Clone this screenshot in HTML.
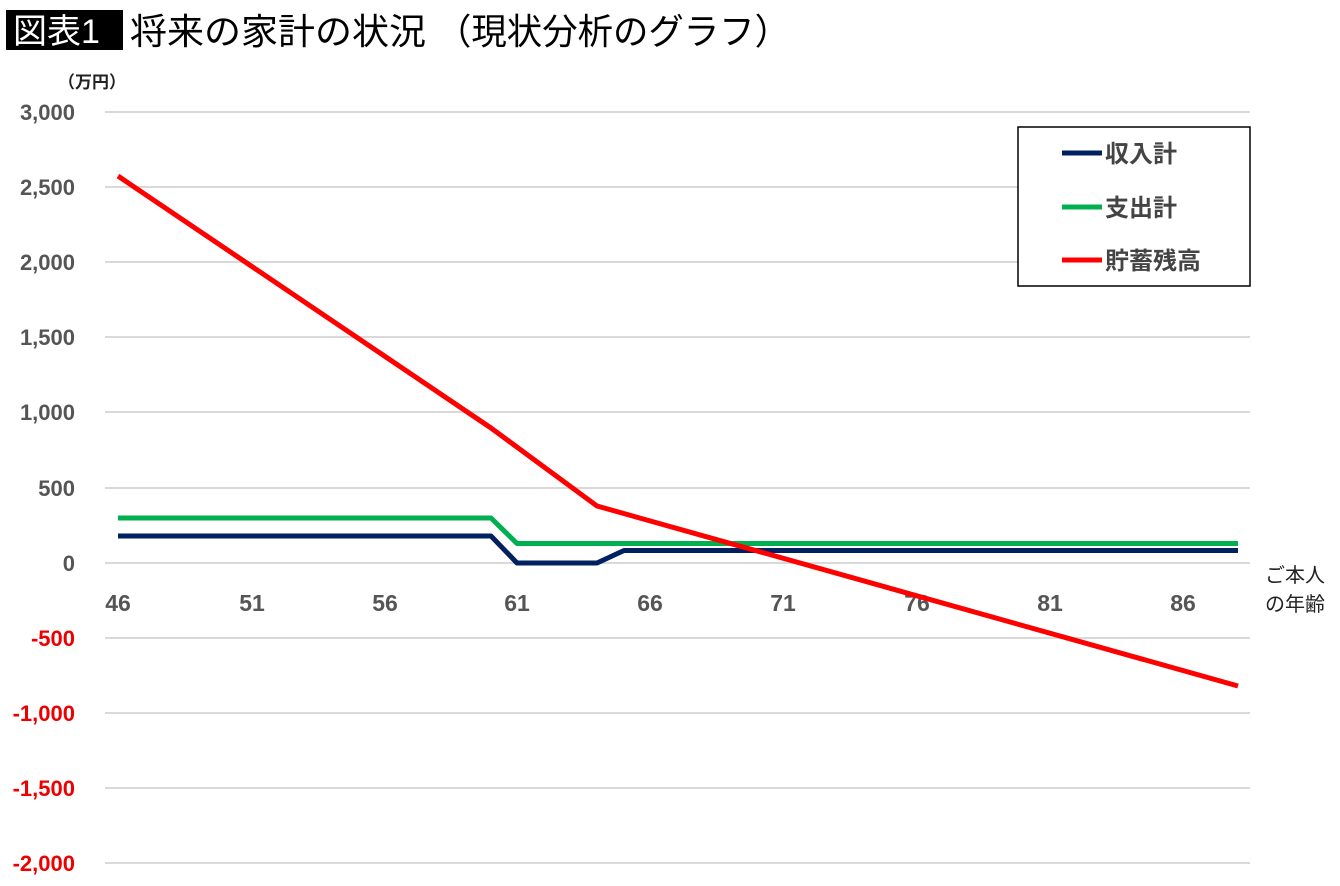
<!DOCTYPE html>
<html><head><meta charset="utf-8"><style>
body{margin:0;background:#fff;width:1340px;height:886px;overflow:hidden;font-family:"Liberation Sans","Noto Sans CJK JP",sans-serif;}
</style></head><body>
<svg width="1340" height="886" xmlns="http://www.w3.org/2000/svg" style="position:absolute;left:0;top:0">
<rect x="6" y="10" width="117" height="40" fill="#000"/>
<text x="13" y="43" font-size="34" fill="#fff" font-family="Liberation Sans,Noto Sans CJK JP,sans-serif">図表1</text>
<text x="130" y="44" font-size="36" fill="#000" font-family="Liberation Sans,Noto Sans CJK JP,sans-serif" textLength="296" lengthAdjust="spacingAndGlyphs">将来の家計の状況</text>
<text x="436" y="44" font-size="36" fill="#000" font-family="Liberation Sans,Noto Sans CJK JP,sans-serif" textLength="354" lengthAdjust="spacingAndGlyphs">（現状分析のグラフ）</text>
<text x="58" y="88" font-size="17" fill="#222" font-weight="bold" font-family="Liberation Sans,Noto Sans CJK JP,sans-serif">（万円）</text>
<g stroke="#d9d9d9" stroke-width="2">
<line x1="105" x2="1250" y1="112" y2="112"/><line x1="105" x2="1250" y1="187" y2="187"/>
<line x1="105" x2="1250" y1="262" y2="262"/><line x1="105" x2="1250" y1="337" y2="337"/>
<line x1="105" x2="1250" y1="412" y2="412"/><line x1="105" x2="1250" y1="488" y2="488"/>
<line x1="105" x2="1250" y1="563" y2="563"/><line x1="105" x2="1250" y1="638" y2="638"/>
<line x1="105" x2="1250" y1="713" y2="713"/><line x1="105" x2="1250" y1="788" y2="788"/>
<line x1="105" x2="1250" y1="863" y2="863"/>
</g>
<g font-size="22" font-weight="bold" text-anchor="end" font-family="Liberation Sans,sans-serif">
<text x="75" y="120" fill="#555">3,000</text><text x="75" y="195" fill="#555">2,500</text>
<text x="75" y="270" fill="#555">2,000</text><text x="75" y="345" fill="#555">1,500</text>
<text x="75" y="420" fill="#555">1,000</text><text x="75" y="496" fill="#555">500</text>
<text x="75" y="571" fill="#555">0</text><text x="75" y="646" fill="#e00">-500</text>
<text x="75" y="721" fill="#e00">-1,000</text><text x="75" y="796" fill="#e00">-1,500</text>
<text x="75" y="871" fill="#e00">-2,000</text>
</g>
<g font-size="23" font-weight="bold" text-anchor="middle" fill="#555" font-family="Liberation Sans,sans-serif">
<text x="118" y="611">46</text><text x="252" y="611">51</text><text x="385" y="611">56</text>
<text x="517" y="611">61</text><text x="650" y="611">66</text><text x="783" y="611">71</text>
<text x="917" y="611">76</text><text x="1050" y="611">81</text><text x="1183" y="611">86</text>
</g>
<text x="1265" y="582" font-size="20" fill="#222" font-family="Liberation Sans,Noto Sans CJK JP,sans-serif">ご本人</text>
<text x="1265" y="611" font-size="20" fill="#222" font-family="Liberation Sans,Noto Sans CJK JP,sans-serif">の年齢</text>
<g fill="none" stroke-width="5" stroke-linejoin="round">
<polyline stroke="#00b050" points="118,518 491,518 517,543.5 1238,543.5"/>
<polyline stroke="#002060" points="118,536 491,536 517,563 597,563 624,550.5 1238,550.5"/>
<polyline stroke="#ff0000" points="118,176 491,428 597,506 1238,686"/>
</g>
<rect x="1018" y="127" width="232" height="159" fill="#fff" stroke="#000" stroke-width="1.5"/>
<g stroke-width="5"><line x1="1062" x2="1102" y1="153" y2="153" stroke="#002060"/>
<line x1="1062" x2="1102" y1="207" y2="207" stroke="#00b050"/>
<line x1="1062" x2="1102" y1="260" y2="260" stroke="#ff0000"/></g>
<g font-size="24" font-weight="bold" fill="#444" font-family="Liberation Sans,Noto Sans CJK JP,sans-serif">
<text x="1105" y="162">収入計</text><text x="1105" y="216">支出計</text><text x="1105" y="269">貯蓄残高</text>
</g>
</svg>
</body></html>
